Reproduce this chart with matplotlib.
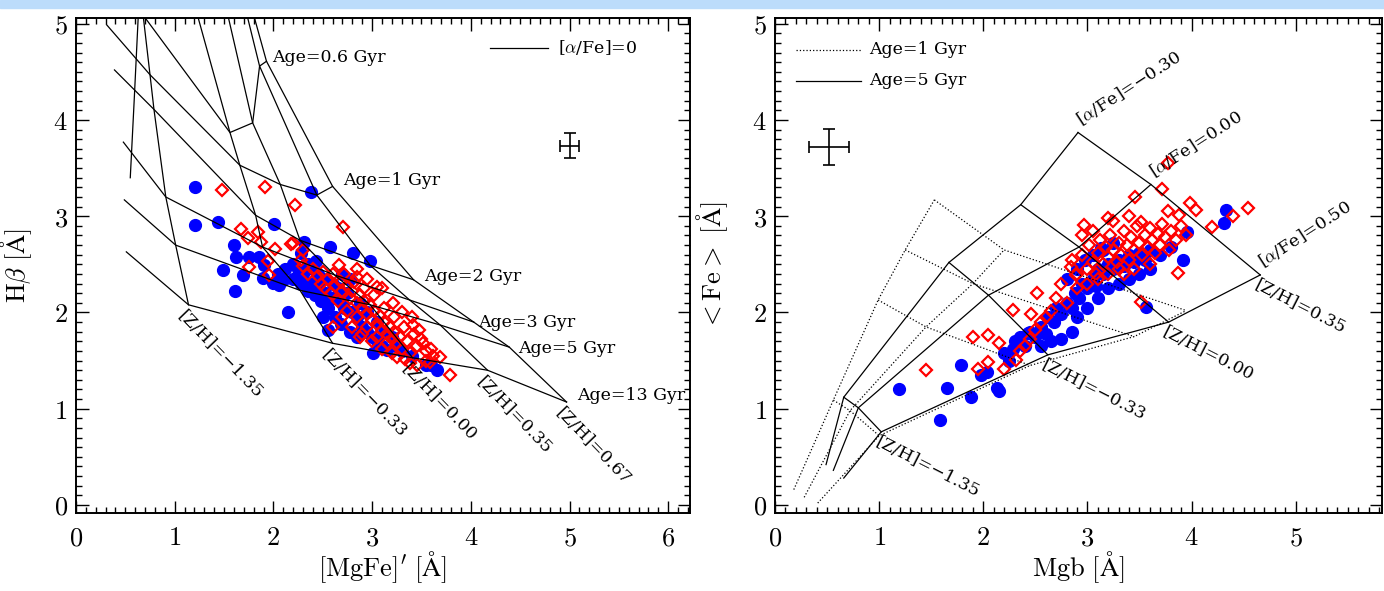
import numpy as np
import matplotlib
matplotlib.use("Agg")
import matplotlib.pyplot as plt
from matplotlib import ticker
from matplotlib.patches import Rectangle

plt.rcParams["mathtext.fontset"] = "cm"
plt.rcParams["font.family"] = ["DejaVu Serif"]

# ---------------- left panel: Hbeta vs [MgFe]' model grid ----------------
# first row is a younger track that sits above the plotted range (only its
# metallicity legs show); the others carry the "Age=" labels
ages_left = ["0.4", "0.6", "1", "2", "3", "5", "13"]
zh_left = ["−2.25", "−1.35", "−0.33", "0.00", "0.35", "0.67"]
# rows = age, columns = [Z/H]
mgfe_grid = [
    [0.10, 0.60, 1.16, 1.48, 1.67, 1.73],
    [0.19, 0.68, 1.56, 1.79, 1.86, 1.93],
    [0.31, 0.75, 1.66, 2.07, 2.44, 2.60],
    [0.39, 0.79, 1.82, 2.27, 2.98, 3.42],
    [0.48, 0.91, 1.89, 2.62, 3.38, 4.03],
    [0.49, 1.01, 2.27, 2.98, 3.69, 4.39],
    [0.51, 1.14, 2.60, 3.41, 4.17, 4.97],
]
hb_grid = [
    [6.50, 5.80, 5.35, 5.35, 5.35, 5.35],
    [5.67, 5.09, 3.87, 3.97, 4.56, 4.61],
    [4.99, 4.47, 3.53, 3.33, 3.22, 3.31],
    [4.52, 4.11, 3.01, 2.75, 2.49, 2.34],
    [3.77, 3.20, 2.68, 2.39, 2.13, 1.90],
    [3.17, 2.70, 2.23, 2.08, 1.87, 1.64],
    [2.63, 2.08, 1.68, 1.53, 1.40, 1.07],
]
# young metal-poor track that stops half way
poor_mgfe = [0.63, 0.59, 0.55]
poor_hb = [5.06, 4.21, 3.40]

blue_left_mgfe = [1.21, 1.21, 1.44, 1.60, 1.62, 1.49, 1.69, 1.61, 2.01, 2.38, 2.31, 1.85, 1.90,
                  2.00, 2.06, 2.43, 2.15, 2.57, 2.81, 2.98, 1.89, 2.10, 2.50, 2.55, 3.01, 3.15,
                  3.66, 3.60, 2.25, 2.30, 2.35, 2.40, 2.45, 2.50, 2.38, 2.45, 2.52, 2.60, 2.60,
                  2.65, 2.70, 2.72, 2.75, 2.80, 2.85, 2.88, 2.90, 2.95, 3.00, 3.05, 3.10, 2.62,
                  2.68, 2.70, 2.78, 2.55, 2.48, 2.42, 2.35, 2.28, 2.20, 2.20, 2.12, 2.05, 2.95,
                  3.05, 3.12, 3.20, 3.25, 3.30, 2.85, 2.78, 3.40, 3.55, 1.75, 2.28]
blue_left_hb = [3.30, 2.91, 2.94, 2.70, 2.58, 2.44, 2.39, 2.22, 2.92, 3.25, 2.73, 2.58, 2.49,
                2.31, 2.29, 2.53, 2.00, 2.68, 2.62, 2.53, 2.36, 2.34, 1.95, 1.82, 1.58, 1.61,
                1.40, 1.45, 2.45, 2.40, 2.50, 2.45, 2.40, 2.35, 2.30, 2.25, 2.20, 2.30, 2.15,
                2.25, 2.10, 2.05, 2.20, 2.00, 1.95, 2.10, 1.85, 1.80, 1.75, 1.70, 1.65, 1.95,
                1.88, 2.40, 2.35, 2.05, 2.12, 2.18, 2.22, 2.30, 2.35, 2.50, 2.45, 2.40, 2.00,
                1.90, 1.80, 1.75, 1.65, 1.60, 1.75, 1.80, 1.55, 1.45, 2.58, 2.62]
red_left_mgfe = [1.48, 1.91, 2.22, 2.71, 1.67, 1.74, 1.84, 1.87, 2.02, 2.18, 1.75, 1.95, 1.96,
                 2.20, 2.30, 2.66, 2.85, 3.05, 3.21, 3.41, 3.52, 3.69, 3.79, 3.25, 3.38, 3.59,
                 2.88, 2.60, 2.40, 2.45, 2.50, 2.55, 2.60, 2.62, 2.68, 2.70, 2.75, 2.78, 2.80,
                 2.85, 2.88, 2.90, 2.92, 2.95, 2.98, 3.00, 3.02, 3.05, 3.08, 3.10, 3.12, 3.15,
                 3.18, 3.20, 3.22, 3.25, 3.28, 3.30, 3.35, 3.38, 2.72, 2.82, 2.92, 3.02, 3.12,
                 3.22, 3.32, 3.42, 2.65, 2.75, 2.85, 2.95, 3.05, 3.15, 2.58, 2.52, 2.48, 3.45,
                 3.50, 3.55, 2.35, 2.30, 2.28, 2.85, 2.95, 3.10, 3.30, 3.40, 3.60, 3.55, 2.70,
                 2.80, 2.90, 3.00, 3.10, 3.20, 3.48, 3.62, 3.33, 3.45]
red_left_hb = [3.27, 3.30, 3.12, 2.89, 2.87, 2.77, 2.84, 2.73, 2.66, 2.71, 2.47, 2.54, 2.39,
               2.72, 2.65, 2.49, 2.37, 2.27, 2.10, 1.87, 1.68, 1.54, 1.35, 1.54, 1.48, 1.49,
               1.75, 1.85, 2.45, 2.38, 2.42, 2.35, 2.40, 2.28, 2.32, 2.22, 2.28, 2.15, 2.22,
               2.10, 2.18, 2.05, 2.12, 1.98, 2.08, 1.92, 2.02, 1.88, 1.96, 1.82, 1.90, 1.78,
               1.85, 1.72, 1.80, 1.68, 1.75, 1.62, 1.70, 1.58, 2.40, 2.32, 2.25, 2.18, 2.05,
               1.95, 1.85, 1.78, 2.12, 2.02, 1.95, 1.85, 1.75, 1.68, 2.20, 2.25, 2.30, 1.65,
               1.72, 1.60, 2.40, 2.48, 2.55, 2.45, 2.35, 2.25, 2.00, 1.95, 1.62, 1.50, 1.95,
               1.85, 1.78, 1.70, 1.62, 1.58, 1.82, 1.55, 1.52, 1.45]

# ---------------- right panel: <Fe> vs Mgb model grid ----------------
afe_labels = ["−0.30", "0.00", "0.50"]
zh_right = ["−2.25", "−1.35", "−0.33", "0.00", "0.35"]
# 5 Gyr (solid), rows = [alpha/Fe], columns = [Z/H]
mgb_5 = [
    [0.49, 0.66, 1.67, 2.36, 2.91],
    [0.56, 0.80, 2.05, 2.92, 3.61],
    [0.66, 1.02, 2.62, 3.78, 4.66],
]
fe_5 = [
    [0.42, 1.12, 2.52, 3.12, 3.87],
    [0.36, 1.01, 2.18, 2.68, 3.33],
    [0.28, 0.76, 1.56, 1.90, 2.39],
]
# 1 Gyr (dotted)
mgb_1 = [
    [0.18, 0.56, 0.99, 1.25, 1.53],
    [0.28, 0.72, 1.45, 1.90, 2.20],
    [0.41, 1.00, 2.45, 3.45, 3.95],
]
fe_1 = [
    [0.16, 1.09, 2.13, 2.65, 3.17],
    [0.08, 0.98, 1.85, 2.30, 2.65],
    [0.02, 0.72, 1.45, 1.75, 2.02],
]

blue_right_mgb = [1.19, 1.58, 1.65, 1.88, 1.79, 2.15, 2.13, 1.98, 2.04, 2.29, 2.43, 4.33, 4.31,
                  3.96, 3.92, 3.56, 3.25, 3.13, 2.30, 2.35, 2.40, 2.45, 2.50, 2.55, 2.60, 2.62,
                  2.68, 2.70, 2.75, 2.80, 2.85, 2.88, 2.92, 2.95, 3.00, 3.05, 3.08, 3.10, 3.15,
                  3.20, 3.25, 3.30, 3.35, 3.40, 3.45, 3.50, 3.55, 3.60, 3.70, 3.80, 2.85, 2.90,
                  3.00, 3.10, 3.20, 3.30, 3.40, 2.65, 2.75, 2.98, 3.05, 3.15, 2.80, 2.90, 3.50,
                  3.60, 2.55, 2.20, 2.25]
blue_right_fe = [1.20, 0.88, 1.22, 1.12, 1.45, 1.18, 1.22, 1.35, 1.38, 1.62, 1.79, 3.07, 2.93,
                 2.84, 2.55, 2.06, 2.72, 2.67, 1.70, 1.75, 1.65, 1.80, 1.75, 1.85, 1.78, 1.95,
                 1.90, 2.05, 1.98, 2.10, 2.05, 2.20, 2.15, 2.30, 2.25, 2.35, 2.28, 2.45, 2.40,
                 2.50, 2.45, 2.55, 2.48, 2.60, 2.52, 2.62, 2.55, 2.65, 2.60, 2.68, 1.80, 1.95,
                 2.05, 2.15, 2.25, 2.30, 2.35, 1.70, 1.72, 2.55, 2.60, 2.65, 2.35, 2.45, 2.40,
                 2.45, 1.65, 1.58, 1.50]
red_right_mgb = [1.45, 1.90, 2.05, 2.15, 2.05, 1.95, 2.20, 2.31, 2.29, 2.46, 3.77, 3.72, 3.46,
                 2.97, 3.20, 3.40, 3.51, 3.77, 3.88, 3.99, 4.04, 4.20, 4.40, 4.54, 3.87, 3.51,
                 2.84, 2.89, 2.52, 2.85, 2.90, 2.95, 3.00, 3.02, 3.05, 3.08, 3.10, 3.12, 3.15,
                 3.18, 3.20, 3.22, 3.25, 3.28, 3.30, 3.32, 3.35, 3.38, 3.40, 3.42, 3.45, 3.48,
                 3.50, 3.52, 3.55, 3.58, 3.60, 3.62, 3.65, 3.68, 3.70, 3.72, 3.75, 3.78, 3.80,
                 3.85, 3.90, 3.95, 2.75, 2.70, 2.65, 2.60, 2.55, 2.50, 2.45, 2.40, 2.35, 2.90,
                 2.80, 3.00, 3.10, 3.20, 3.30, 3.45, 2.95, 3.05, 3.25, 3.35, 3.60]
red_right_fe = [1.40, 1.75, 1.77, 1.68, 1.49, 1.41, 1.41, 1.51, 2.03, 1.98, 3.55, 3.28, 3.20,
                2.91, 2.98, 3.00, 2.94, 3.05, 3.01, 3.14, 3.07, 2.89, 3.00, 3.09, 2.41, 2.11,
                2.47, 2.39, 2.20, 2.55, 2.40, 2.60, 2.45, 2.70, 2.52, 2.40, 2.62, 2.75, 2.50,
                2.68, 2.58, 2.80, 2.65, 2.52, 2.72, 2.60, 2.85, 2.70, 2.55, 2.78, 2.65, 2.90,
                2.72, 2.60, 2.80, 2.68, 2.88, 2.75, 2.62, 2.82, 2.70, 2.92, 2.78, 2.65, 2.85,
                2.75, 2.90, 2.80, 2.30, 2.15, 2.02, 1.95, 1.90, 1.82, 1.72, 1.65, 1.60, 2.25,
                2.10, 2.30, 2.35, 2.40, 2.45, 2.45, 2.80, 2.85, 2.95, 2.40, 2.50]

LW = 0.9
TXT = 12.5


def idl_axes(ax, xmax):
    ax.set_xlim(0, xmax)
    ax.set_ylim(-0.083, 5.06)
    ax.xaxis.set_major_locator(ticker.MultipleLocator(1))
    ax.xaxis.set_minor_locator(ticker.MultipleLocator(0.1))
    ax.yaxis.set_major_locator(ticker.MultipleLocator(1))
    ax.yaxis.set_minor_locator(ticker.MultipleLocator(0.1))
    fmt = ticker.FuncFormatter(lambda v, p: r"$\mathrm{%d}$" % round(v))
    ax.xaxis.set_major_formatter(fmt)
    ax.yaxis.set_major_formatter(fmt)
    ax.tick_params(which="both", direction="in", top=True, right=True, width=1.0)
    ax.tick_params(which="major", length=9, labelsize=19, pad=9)
    ax.tick_params(axis="y", which="major", pad=6)
    ax.tick_params(which="minor", length=4.5)
    for s in ax.spines.values():
        s.set_linewidth(1.4)


def scatter(ax, bx, by, rx, ry):
    ax.plot(bx, by, "o", ms=8.5, color="#0000ff", mec="#0000ff", zorder=2)
    ax.plot(rx, ry, "D", ms=6.5, mfc="none", mec="#ff0000", mew=1.6, zorder=3)


fig = plt.figure(figsize=(13.84, 5.91), dpi=100)
fig.patches.append(Rectangle((0, 0.986), 1, 0.014, transform=fig.transFigure,
                             color="#bcdcfb", zorder=0))

# ---- left ----
ax1 = fig.add_axes([0.0549, 0.132, 0.4436, 0.8376])
idl_axes(ax1, 6.22)
scatter(ax1, blue_left_mgfe, blue_left_hb, red_left_mgfe, red_left_hb)
mg = np.array(mgfe_grid)
hb = np.array(hb_grid)
for i in range(len(ages_left)):
    ax1.plot(mg[i], hb[i], "-", color="k", lw=LW, zorder=4)
for j in range(1, len(zh_left)):
    ax1.plot(mg[:, j], hb[:, j], "-", color="k", lw=LW, zorder=4)
ax1.plot(poor_mgfe, poor_hb, "-", color="k", lw=LW, zorder=4)

age_pos = [(1.99, 4.65), (2.71, 3.37), (3.53, 2.37), (4.07, 1.90), (4.48, 1.63), (5.08, 1.14)]
for a, (x, y) in zip(ages_left[1:], age_pos):
    ax1.text(x, y, f"Age={a} Gyr", fontsize=TXT, ha="left", va="center", zorder=5)
for j in range(1, len(zh_left)):
    ax1.text(mg[-1, j] - 0.02, hb[-1, j] - 0.03, f"[Z/H]={zh_left[j]}", fontsize=TXT,
             rotation=-46, rotation_mode="anchor", ha="left", va="top", zorder=5)

ax1.plot([4.19, 4.78], [4.75, 4.75], "-", color="k", lw=LW)
ax1.text(4.88, 4.75, r"[$\alpha$/Fe]=0", fontsize=TXT, ha="left", va="center")
ax1.errorbar([5.0], [3.73], xerr=[0.1], yerr=[0.13], fmt="none", ecolor="k",
             elinewidth=1.2, capsize=4, capthick=1.2)

ax1.set_xlabel(r"$[\mathrm{MgFe}]^{\prime}\ [\mathrm{\AA}]$", fontsize=19)
ax1.set_ylabel(r"$\mathrm{H}\beta\ [\mathrm{\AA}]$", fontsize=19)
ax1.xaxis.set_label_coords(0.5, -0.074)
ax1.yaxis.set_label_coords(-0.068, 0.5)

# ---- right ----
ax2 = fig.add_axes([0.56, 0.132, 0.4386, 0.8376])
idl_axes(ax2, 5.83)
scatter(ax2, blue_right_mgb, blue_right_fe, red_right_mgb, red_right_fe)
for xs, ys, ls in [(mgb_1, fe_1, ":"), (mgb_5, fe_5, "-")]:
    gx = np.array(xs)
    gy = np.array(ys)
    for i in range(gx.shape[0]):
        ax2.plot(gx[i], gy[i], ls, color="k", lw=LW, zorder=4)
    for j in range(1, gx.shape[1]):
        ax2.plot(gx[:, j], gy[:, j], ls, color="k", lw=LW, zorder=4)

gx = np.array(mgb_5)
gy = np.array(fe_5)
for i, lab in enumerate(afe_labels):
    ax2.text(gx[i, -1] + 0.05, gy[i, -1] + 0.04, rf"[$\alpha$/Fe]={lab}", fontsize=TXT,
             rotation=33, rotation_mode="anchor", ha="left", va="bottom", zorder=5)
for j in range(1, len(zh_right)):
    ax2.text(gx[-1, j] - 0.01, gy[-1, j] - 0.02, f"[Z/H]={zh_right[j]}", fontsize=TXT,
             rotation=-27, rotation_mode="anchor", ha="left", va="top", zorder=5)

ax2.plot([0.20, 0.83], [4.73, 4.73], ":", color="k", lw=LW)
ax2.text(0.90, 4.73, "Age=1 Gyr", fontsize=TXT, ha="left", va="center")
ax2.plot([0.20, 0.83], [4.41, 4.41], "-", color="k", lw=LW)
ax2.text(0.90, 4.41, "Age=5 Gyr", fontsize=TXT, ha="left", va="center")
ax2.errorbar([0.52], [3.72], xerr=[0.19], yerr=[0.19], fmt="none", ecolor="k",
             elinewidth=1.2, capsize=4, capthick=1.2)

ax2.set_xlabel(r"$\mathrm{Mgb}\ [\mathrm{\AA}]$", fontsize=19)
ax2.set_ylabel(r"${<}\mathrm{Fe}{>}\ [\mathrm{\AA}]$", fontsize=19)
ax2.xaxis.set_label_coords(0.5, -0.074)
ax2.yaxis.set_label_coords(-0.074, 0.5)

fig.savefig("out.png", dpi=100)
